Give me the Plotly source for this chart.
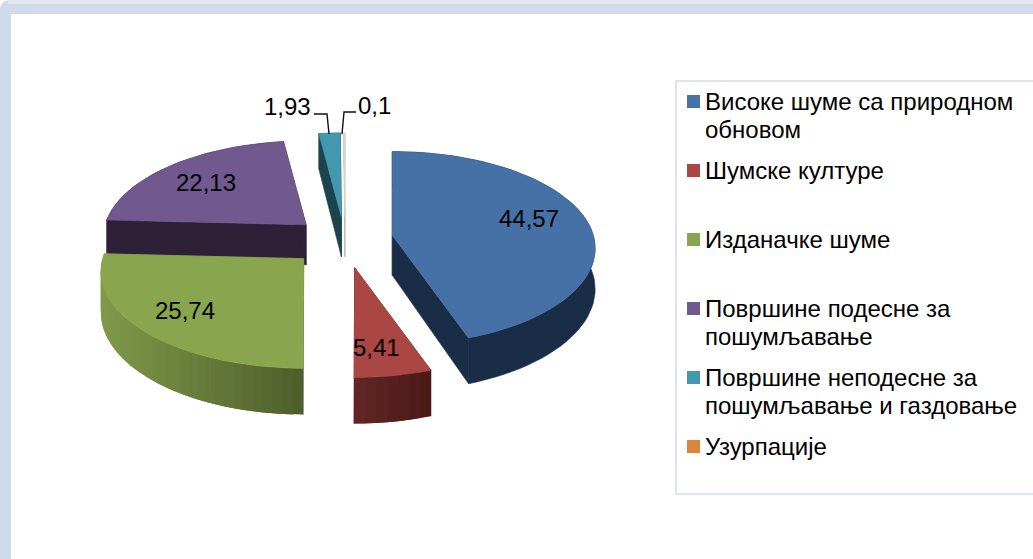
import math
import plotly.graph_objects as go

# ---- data ----
categories = [
    "Високе шуме са природном<br>обновом",
    "Шумске културе",
    "Изданачке шуме",
    "Површине подесне за<br>пошумљавање",
    "Површине неподесне за<br>пошумљавање и газдовање",
    "Узурпације",
]
values = [44.57, 5.41, 25.74, 22.13, 1.93, 0.1]
value_labels = ["44,57", "5,41", "25,74", "22,13", "1,93", "0,1"]

# ---- style ----
legend_colors = ["#4572A7", "#AA4643", "#89A54E", "#71588F", "#4198AF", "#DB843D"]
top_colors = ["#4571A6", "#AA4643", "#89A54E", "#71588F", "#4198AF", "#DAD9D2"]
wall_left = ["#1A2D47", "#632624", "#80994A", "#2E2137", "#1C444E", "#B8B8B0"]
wall_right = ["#1A2D47", "#481917", "#4E5E2A", "#2E2137", "#1C444E", "#B8B8B0"]
explode = [48, 58, 57, 53, 54, 54]
lift = [2, -1, 0, 0, 0, 0]
draw_order = [4, 5, 3, 0, 2, 1]
CX, CY, RX, RY, K, DEPTH, EXP_Y = 345, 241, 201, 95, 0.134, 40, 0.45
label_pos = [(529, 218), (376, 347), (185, 310), (206, 182), (287, 106), (374, 105)]
FONT = "Liberation Sans"
LABEL_SIZE = 24
LEGEND_SIZE = 24
LEGEND_LINE = 28


def hex_mix(a, b, t):
    ca = [int(a[i:i + 2], 16) for i in (1, 3, 5)]
    cb = [int(b[i:i + 2], 16) for i in (1, 3, 5)]
    return "#%02X%02X%02X" % tuple(round(p + (q - p) * t) for p, q in zip(ca, cb))


def project(apex, theta):
    u, v = math.sin(theta), -math.cos(theta)
    s = 1 / (1 - K * v)
    return apex[0] + RX * u * s, apex[1] + RY * v * s, s


def poly(xs, ys, color, edge=0.6):
    return go.Scatter(x=xs, y=ys, mode="lines", fill="toself", fillcolor=color,
                      line=dict(color=color, width=edge), hoverinfo="skip", showlegend=False)


fig = go.Figure()

total = sum(values)
angles = [0.0]
for val in values:
    angles.append(angles[-1] + val / total * 2 * math.pi)

for i in draw_order:
    a0, a1 = angles[i], angles[i + 1]
    mid = (a0 + a1) / 2
    apex = (CX + explode[i] * math.sin(mid), CY - explode[i] * EXP_Y * math.cos(mid) - lift[i])
    steps = max(2, int((a1 - a0) / math.radians(2.5)))
    ts = [a0 + (a1 - a0) * n / steps for n in range(steps + 1)]
    rim = [project(apex, t) for t in ts]
    lo = min(r[0] for r in rim)
    span = max(r[0] for r in rim) - lo

    # radial faces
    for t in (a0, a1):
        x, y, s = project(apex, t)
        fig.add_trace(poly([apex[0], x, x, apex[0], apex[0]],
                           [apex[1], y, y + DEPTH * s, apex[1] + DEPTH, apex[1]],
                           wall_left[i] if t == a1 else wall_right[i]))
    # outer wall, shaded along the arc; neighbouring strips overlap to avoid seams
    if wall_left[i] == wall_right[i]:
        fig.add_trace(poly([r[0] for r in rim] + [r[0] for r in reversed(rim)],
                           [r[1] for r in rim] + [r[1] + DEPTH * r[2] for r in reversed(rim)],
                           wall_left[i]))
    else:
        for n in range(steps):
            x0, y0, s0 = rim[n]
            x1, y1, s1 = rim[min(n + 2, steps)]
            t = ((rim[n][0] + rim[n + 1][0]) / 2 - lo) / span
            fig.add_trace(poly([x0, x1, x1, x0, x0],
                               [y0, y1, y1 + DEPTH * s1, y0 + DEPTH * s0, y0],
                               hex_mix(wall_left[i], wall_right[i], t), edge=0))
    # top face
    fig.add_trace(poly([apex[0]] + [r[0] for r in rim] + [apex[0]],
                       [apex[1]] + [r[1] for r in rim] + [apex[1]],
                       top_colors[i]))

# leader lines for the two smallest slices
fig.add_trace(go.Scatter(x=[314, 327, 329], y=[114, 114, 134], mode="lines",
                         line=dict(color="#111111", width=1.4), hoverinfo="skip", showlegend=False))
fig.add_trace(go.Scatter(x=[356, 344, 342], y=[112, 112, 134], mode="lines",
                         line=dict(color="#111111", width=1.4), hoverinfo="skip", showlegend=False))

# legend swatches
legend_y = [101.5 + 69 * n for n in range(len(categories))]
fig.add_trace(go.Scatter(x=[693.5] * len(categories), y=legend_y, mode="markers",
                         marker=dict(symbol="square", size=13, color=legend_colors, line=dict(width=0)),
                         hoverinfo="skip", showlegend=False))

annotations = []
for txt, (x, y) in zip(value_labels, label_pos):
    annotations.append(dict(x=x, y=y, text=txt, showarrow=False, xanchor="center", yanchor="middle",
                            font=dict(family=FONT, size=LABEL_SIZE, color="#000000")))
for name, y in zip(categories, legend_y):
    for k, line in enumerate(name.split("<br>")):
        annotations.append(dict(x=704, y=y + k * LEGEND_LINE, text=line, showarrow=False,
                                xanchor="left", yanchor="middle", align="left", borderpad=0,
                                font=dict(family=FONT, size=LEGEND_SIZE, color="#000000")))

shapes = [
    # outer frame with a rounded top-left corner
    dict(type="path", layer="below", xref="x", yref="y",
         path="M0,559 L0,10 Q0,0 10,0 L1033,0 L1033,14 L11,14 L11,559 Z",
         fillcolor="#CFDBEA", line=dict(width=0)),
    dict(type="rect", layer="below", xref="x", yref="y", x0=8, x1=1033, y0=0, y1=4,
         fillcolor="#E1E8F1", line=dict(width=0)),
    # legend box
    dict(type="rect", layer="below", xref="x", yref="y", x0=676, x1=1034, y0=81, y1=494,
         fillcolor="#FFFFFF", line=dict(color="#DCE5F3", width=2)),
]

fig.update_layout(
    width=1033, height=559, autosize=False,
    margin=dict(l=0, r=0, t=0, b=0),
    paper_bgcolor="#FFFFFF", plot_bgcolor="rgba(0,0,0,0)",
    xaxis=dict(range=[0, 1033], visible=False, fixedrange=True),
    yaxis=dict(range=[559, 0], visible=False, fixedrange=True),
    shapes=shapes, annotations=annotations, showlegend=False,
)

fig.write_html("out.html", config={"displayModeBar": False},
               post_script="document.body.style.margin='0';document.body.style.overflow='hidden';")
